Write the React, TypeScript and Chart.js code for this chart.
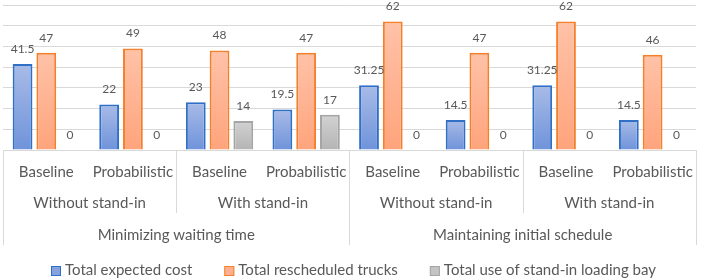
import React, { useEffect, useRef } from "react";
import { Chart, registerables } from "chart.js";

Chart.register(...registerables);

const methods = ["Baseline", "Probabilistic", "Baseline", "Probabilistic", "Baseline", "Probabilistic", "Baseline", "Probabilistic"];
const standIn = ["Without stand-in", "With stand-in", "Without stand-in", "With stand-in"];
const objectives = ["Minimizing waiting time", "Maintaining initial schedule"];

const expectedCost = [41.5, 22, 23, 19.5, 31.25, 14.5, 31.25, 14.5];
const rescheduledTrucks = [47, 49, 48, 47, 62, 47, 62, 46];
const standInUse = [0, 0, 14, 17, 0, 0, 0, 0];

const seriesNames = ["Total expected cost", "Total rescheduled trucks", "Total use of stand-in loading bay"];

const yMin = 0;
const yMax = 70;
const yStep = 10;

const FONT = "Lato";
const TEXT = "#595959";
const GRID = "#d9d9d9";

const legendFills = ["#85a3de", "#ffb090", "#c4c4c4"];

function barGradient(top: string, bottom: string, solid: string) {
  return (ctx: any) => {
    if (ctx.type !== "data") return solid;
    const chart = ctx.chart;
    const y = chart.scales && chart.scales.y;
    if (!y || !chart.ctx) return solid;
    const v = ctx.raw ?? 0;
    const yTop = y.getPixelForValue(v);
    const yBase = y.getPixelForValue(0);
    if (!isFinite(yTop) || !isFinite(yBase) || yBase - yTop < 1) return solid;
    const g = chart.ctx.createLinearGradient(0, yTop, 0, yBase);
    g.addColorStop(0, top);
    g.addColorStop(1, bottom);
    return g;
  };
}

const valueLabels = {
  id: "valueLabels",
  afterDatasetsDraw(chart: any) {
    const c = chart.ctx;
    c.save();
    c.font = `12px ${FONT}`;
    c.fillStyle = TEXT;
    c.textAlign = "center";
    c.textBaseline = "middle";
    chart.data.datasets.forEach((ds: any, di: number) => {
      const meta = chart.getDatasetMeta(di);
      meta.data.forEach((el: any, i: number) => {
        c.fillText(String(ds.data[i]), el.x, el.y - 15);
      });
    });
    c.restore();
  },
};

const groupLines = {
  id: "groupLines",
  afterDraw(chart: any) {
    const x = chart.scales.x;
    const top = chart.chartArea.bottom;
    const c = chart.ctx;
    const n = methods.length;
    const step = (x.right - x.left) / n;
    c.save();
    c.strokeStyle = GRID;
    c.lineWidth = 1;
    const line = (px: number, bottom: number) => {
      const xx = Math.round(px) + 0.5;
      c.beginPath();
      c.moveTo(xx, top);
      c.lineTo(xx, bottom);
      c.stroke();
    };
    const full = chart.scales.x3.bottom;
    const mid = chart.scales.x2.bottom - 3;
    const perObjective = n / objectives.length;
    const perStand = n / standIn.length;
    for (let i = 0; i <= n; i++) {
      const px = x.left + i * step;
      if (i % perObjective === 0) line(px, full);
      else if (i % perStand === 0) line(px, mid);
    }
    c.restore();
  },
};

const bottomLegend = {
  id: "bottomLegend",
  afterDraw(chart: any) {
    const c = chart.ctx;
    c.save();
    c.font = `15px ${FONT}`;
    c.textBaseline = "middle";
    c.textAlign = "left";
    const box = 10;
    const gapText = 4;
    const gapItem = 32;
    const items = chart.data.datasets.map((ds: any, i: number) => ({
      text: ds.label as string,
      fill: legendFills[i],
      stroke: ds.borderColor as string,
    }));
    const widths = items.map((it: any) => box + gapText + c.measureText(it.text).width);
    const total = widths.reduce((a: number, b: number) => a + b, 0) + gapItem * (items.length - 1);
    let x = Math.round((chart.width - total) / 2);
    const cy = chart.height - 9.5;
    items.forEach((it: any, i: number) => {
      c.fillStyle = it.fill;
      c.fillRect(x, Math.round(cy - box / 2), box, box);
      c.strokeStyle = it.stroke;
      c.lineWidth = 1;
      c.strokeRect(x + 0.5, Math.round(cy - box / 2) + 0.5, box - 1, box - 1);
      c.fillStyle = TEXT;
      c.fillText(it.text, x + box + gapText, cy);
      x += widths[i] + gapItem;
    });
    c.restore();
  },
};

export default function App() {
  const ref = useRef<HTMLCanvasElement | null>(null);
  useEffect(() => {
    document.body.style.margin = "0";
    if (!ref.current) return;
    const tickFont = { family: FONT, size: 15 };
    const chart = new Chart(ref.current, {
      type: "bar",
      data: {
        labels: methods,
        datasets: [
          {
            label: seriesNames[0],
            data: expectedCost,
            backgroundColor: barGradient("#a8bbe7", "#6f93da", "#7c9edc"),
            borderColor: "#2f6fc6",
            borderWidth: 2,
          },
          {
            label: seriesNames[1],
            data: rescheduledTrucks,
            backgroundColor: barGradient("#ffc2a8", "#ffa47c", "#ffad8a"),
            borderColor: "#f5802c",
            borderWidth: 2,
          },
          {
            label: seriesNames[2],
            data: standInUse,
            backgroundColor: barGradient("#d2d2d2", "#b4b4b4", "#c2c2c2"),
            borderColor: "#a5a5a5",
            borderWidth: 2,
          },
        ],
      },
      options: {
        animation: false,
        responsive: false,
        maintainAspectRatio: false,
        datasets: { bar: { categoryPercentage: 0.823, barPercentage: 0.833 } },
        layout: { padding: { top: 5, left: 3, right: 3, bottom: 35 } },
        plugins: {
          legend: { display: false },
          tooltip: { enabled: false },
        },
        scales: {
          x: {
            type: "category",
            offset: true,
            weight: 0,
            grid: { display: false, drawTicks: false, offset: true },
            border: { display: true, color: GRID },
            ticks: { font: tickFont, color: TEXT, padding: 13, autoSkip: false, maxRotation: 0 },
            afterFit: (s: any) => { s.height = 38; },
          },
          x2: {
            type: "category",
            labels: standIn,
            position: "bottom",
            offset: true,
            weight: 1,
            grid: { display: false, drawTicks: false },
            border: { display: false },
            ticks: { font: tickFont, color: TEXT, padding: 6, autoSkip: false, maxRotation: 0 },
            afterFit: (s: any) => { s.height = 28; },
          },
          x3: {
            type: "category",
            labels: objectives,
            position: "bottom",
            offset: true,
            weight: 2,
            grid: { display: false, drawTicks: false },
            border: { display: false },
            ticks: { font: tickFont, color: TEXT, padding: 10, autoSkip: false, maxRotation: 0 },
            afterFit: (s: any) => { s.height = 29; },
          },
          y: {
            min: yMin,
            max: yMax,
            ticks: { display: false, stepSize: yStep },
            grid: { color: GRID, drawTicks: false },
            border: { display: false },
            afterFit: (s: any) => { s.width = 0; },
          },
        },
      },
      plugins: [valueLabels, groupLines, bottomLegend],
    } as any);
    return () => chart.destroy();
  }, []);
  return (
    <div style={{ width: 706, height: 280, overflow: "hidden", position: "relative" }}>
      <canvas ref={ref} width={706} height={280} style={{ display: "block" }} />
    </div>
  );
}
